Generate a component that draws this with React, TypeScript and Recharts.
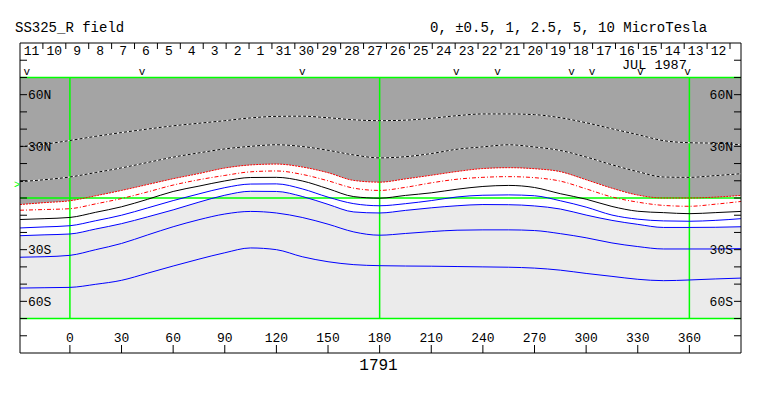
import React from 'react';
import {
  ComposedChart,
  XAxis,
  YAxis,
  Line,
  Area,
  ReferenceArea,
  ReferenceLine,
  ReferenceDot,
  Scatter,
} from 'recharts';

const longitudes = [-29, -15, 0, 15, 30, 45, 60, 75, 90, 105, 120, 135, 150, 165, 180, 195, 210, 225, 240, 255, 270, 285, 300, 315, 330, 345, 360, 375, 390];
const dotted1 = [29.8, 31.2, 33.4, 35.8, 38.0, 40.0, 41.9, 43.4, 44.9, 46.5, 47.4, 47.5, 46.6, 45.4, 44.9, 45.2, 46.3, 47.8, 48.8, 48.8, 48.4, 46.6, 43.7, 40.2, 36.8, 33.3, 32.1, 31.8, 30.9];
const dotted2 = [9.5, 10.6, 12.2, 14.8, 17.5, 20.6, 23.7, 26.2, 28.5, 30.0, 30.9, 29.9, 27.7, 25.0, 23.3, 24.0, 25.8, 28.3, 29.7, 30.9, 29.6, 27.6, 23.8, 19.3, 15.3, 12.2, 12.0, 13.0, 14.1];
const red1 = [-3.8, -2.7, -1.6, 1.3, 4.4, 7.8, 11.2, 14.2, 17.4, 19.2, 19.7, 18.0, 14.7, 10.2, 9.2, 11.1, 13.2, 15.4, 17.1, 17.6, 17.0, 15.3, 10.6, 5.7, 1.7, 0, 0, 0.5, 1.5];
const red2 = [-7.1, -6.7, -6.2, -3.4, -0.3, 3.5, 7.5, 10.6, 13.1, 15.2, 15.7, 13.7, 10.0, 5.7, 4.4, 6.2, 8.8, 10.9, 12.0, 12.4, 11.8, 9.8, 5.3, 0.6, -2.4, -4.3, -4.8, -3.6, -2.0];
const black0 = [-12.5, -12.0, -11.3, -8.3, -5.1, -0.8, 3.8, 6.9, 9.9, 11.9, 12.0, 9.9, 5.4, 0.8, -0.1, 1.5, 3.0, 5.1, 6.7, 7.3, 6.1, 2.5, -0.7, -4.9, -7.7, -8.5, -9.1, -8.5, -7.8];
const blue1 = [-17.4, -16.8, -16.1, -13.2, -10.0, -5.8, -1.5, 2.4, 6.0, 8.1, 8.2, 5.3, 0.5, -3.3, -4.5, -3.3, -1.5, 0.6, 1.6, 1.8, 1.3, -1.6, -5.3, -9.9, -12.3, -13.3, -13.5, -13.0, -12.0];
const blue2 = [-21.9, -21.4, -20.9, -18.0, -14.9, -11.0, -6.9, -2.4, 1.6, 3.9, 3.8, 0.9, -3.7, -8.1, -8.7, -7.2, -5.7, -4.5, -3.8, -3.9, -4.6, -6.4, -9.9, -13.0, -15.3, -17.1, -17.1, -17.0, -16.7];
const blue3 = [-34.4, -34.1, -33.3, -30.0, -26.4, -21.5, -16.7, -12.6, -9.3, -7.8, -8.7, -11.3, -15.2, -19.7, -21.6, -20.6, -19.5, -18.7, -18.5, -18.5, -18.9, -20.7, -23.1, -26.1, -28.2, -29.6, -29.6, -29.6, -29.4];
const blue4 = [-52.3, -52.1, -51.9, -50.1, -47.8, -43.7, -39.5, -35.5, -31.8, -29.0, -30.0, -34.1, -37.0, -38.7, -39.3, -39.5, -39.6, -39.8, -40.0, -40.2, -40.7, -41.9, -43.8, -45.5, -47.2, -48.0, -47.6, -47.0, -46.5];

// day-of-date cells across the top (Aug 11 ... Jul 12), each cell spans a fixed longitude width
const dayLabels = ['11', '10', '9', '8', '7', '6', '5', '4', '3', '2', '1', '31', '30', '29', '28', '27', '26', '25', '24', '23', '22', '21', '20', '19', '18', '17', '16', '15', '14', '13', '12'];
const dayStartLon = -29;
const dayCellDeg = 13.31;
const markerLongitudes = [-25, 42, 135, 224.5, 248.5, 291.5, 303.5, 331.5, 359];
const lonTicks = [0, 30, 60, 90, 120, 150, 180, 210, 240, 270, 300, 330, 360];
const latTicks = [-80, -70, -60, -50, -40, -30, -20, -10, 0, 10, 20, 30, 40, 50, 60, 70, 80];
const latLabels: Record<number, string> = { 60: '60N', 30: '30N', [-30]: '30S', [-60]: '60S' };

const data = longitudes.map((lon, i) => ({
  lon,
  d1: dotted1[i],
  d2: dotted2[i],
  r1: red1[i],
  r2: red2[i],
  k: black0[i],
  b1: blue1[i],
  b2: blue2[i],
  b3: blue3[i],
  b4: blue4[i],
  dark: [red1[i], 70],
  white: [blue2[i], red1[i]],
}));

const markers = markerLongitudes.map((lon) => ({ lon, lat: 73 }));
const sepLons = dayLabels.map((_, i) => +(dayStartLon + (i + 1) * dayCellDeg).toFixed(3));
const labelTicks = dayLabels.map((_, i) => +(dayStartLon + (i + 0.5) * dayCellDeg).toFixed(3));
const labelByTick = new Map(labelTicks.map((t, i) => [t, dayLabels[i]]));

const FONT = 'Liberation Mono, DejaVu Sans Mono, monospace';
const GREEN = '#00ff00';
const tickStyle = { fontFamily: FONT, fontSize: 13, fill: '#000' };

const VMark = (props: any) => (
  <text x={props.cx} y={props.cy + 3} textAnchor="middle" fontFamily={FONT} fontSize={11} fill="#000">
    v
  </text>
);

const GreenMark = (props: any) => (
  <text x={props.cx} y={props.cy + 3} textAnchor="middle" fontFamily={FONT} fontSize={10} fill={GREEN}>
    &gt;
  </text>
);

const lineCommon = {
  xAxisId: 'lon',
  yAxisId: 'lat',
  type: 'monotone' as const,
  strokeWidth: 1,
  dot: false,
  activeDot: false,
  isAnimationActive: false,
};

export default function App() {
  return (
    <div style={{ position: 'absolute', left: 0, top: 0, width: 763, height: 396 }}>
      <ComposedChart
        width={763}
        height={396}
        data={data}
        margin={{ top: 43, right: 22, bottom: 43, left: 20 }}
      >
        <XAxis xAxisId="lon" dataKey="lon" type="number" domain={[-29, 390]} allowDataOverflow
          ticks={lonTicks} orientation="bottom" mirror tickSize={8} tickMargin={3}
          tick={tickStyle} axisLine={{ stroke: '#000' }} tickLine={{ stroke: '#000' }} />
        <XAxis xAxisId="days" dataKey="lon" type="number" domain={[-29, 390]} allowDataOverflow ticks={labelTicks}
          orientation="top" mirror tickSize={0} tickMargin={3} axisLine={{ stroke: '#000' }} tickLine={false}
          interval={0} tick={tickStyle} tickFormatter={(v: number) => labelByTick.get(v) ?? ''} />
        <YAxis yAxisId="lat" type="number" domain={[-90, 90]} allowDataOverflow ticks={latTicks}
          orientation="left" mirror tickSize={7} tickMargin={1} tick={tickStyle} interval={0}
          axisLine={{ stroke: '#000' }} tickLine={{ stroke: '#000' }}
          tickFormatter={(v: number) => latLabels[v] ?? ''} />
        <YAxis yAxisId="latR" type="number" domain={[-90, 90]} allowDataOverflow ticks={latTicks}
          orientation="right" mirror tickSize={7} tickMargin={1} tick={tickStyle} interval={0}
          axisLine={{ stroke: '#000' }} tickLine={{ stroke: '#000' }}
          tickFormatter={(v: number) => latLabels[v] ?? ''} />

        <ReferenceArea xAxisId="lon" yAxisId="lat" x1={-29} x2={390} y1={-70} y2={70} fill="#ebebeb" fillOpacity={1} stroke="none" />
        <Area xAxisId="lon" yAxisId="lat" dataKey="white" type="monotone" fill="#ffffff" fillOpacity={1} stroke="none" isAnimationActive={false} />
        <Area xAxisId="lon" yAxisId="lat" dataKey="dark" type="monotone" fill="#a4a4a4" fillOpacity={1} stroke="none" isAnimationActive={false} />

        {sepLons.map((lon) => (
          <ReferenceLine key={`sep-${lon}`} xAxisId="lon" yAxisId="lat"
            segment={[{ x: lon, y: 90 }, { x: lon, y: 86.5 }]} stroke="#000" strokeWidth={1} />
        ))}

        <ReferenceLine xAxisId="lon" yAxisId="lat" y={70} stroke={GREEN} strokeWidth={1.5} />
        <ReferenceLine xAxisId="lon" yAxisId="lat" y={0} stroke={GREEN} strokeWidth={1.5} />
        <ReferenceLine xAxisId="lon" yAxisId="lat" y={-70} stroke={GREEN} strokeWidth={1.5} />
        <ReferenceLine xAxisId="lon" yAxisId="lat" segment={[{ x: 0, y: -70 }, { x: 0, y: 70 }]} stroke={GREEN} strokeWidth={1.5} />
        <ReferenceLine xAxisId="lon" yAxisId="lat" segment={[{ x: 180, y: -70 }, { x: 180, y: 70 }]} stroke={GREEN} strokeWidth={1.5} />
        <ReferenceLine xAxisId="lon" yAxisId="lat" segment={[{ x: 360, y: -70 }, { x: 360, y: 70 }]} stroke={GREEN} strokeWidth={1.5} />

        <Line {...lineCommon} dataKey="d1" stroke="#ffffff" />
        <Line {...lineCommon} dataKey="d1" stroke="#000000" strokeDasharray="3 2" />
        <Line {...lineCommon} dataKey="d2" stroke="#ffffff" />
        <Line {...lineCommon} dataKey="d2" stroke="#000000" strokeDasharray="3 2" />
        <Line {...lineCommon} dataKey="r1" stroke="#ff0000" strokeDasharray="2 1" />
        <Line {...lineCommon} dataKey="r2" stroke="#ff0000" strokeDasharray="4 2 1 2" />
        <Line {...lineCommon} dataKey="k" stroke="#000000" />
        <Line {...lineCommon} dataKey="b1" stroke="#0000ff" />
        <Line {...lineCommon} dataKey="b2" stroke="#0000ff" />
        <Line {...lineCommon} dataKey="b3" stroke="#0000ff" />
        <Line {...lineCommon} dataKey="b4" stroke="#0000ff" />

        <Scatter xAxisId="lon" yAxisId="lat" data={markers} dataKey="lat" shape={VMark} isAnimationActive={false} />
        <ReferenceDot xAxisId="lon" yAxisId="lat" x={-30.8} y={7.4} r={0} ifOverflow="visible" shape={GreenMark} />
      </ComposedChart>
      <svg width={763} height={396} style={{ position: 'absolute', left: 0, top: 0, pointerEvents: 'none' }}>
        <text x={15} y={31.5} fontFamily={FONT} fontSize={14} fill="#000">SS325_R field</text>
        <text x={430} y={31.5} fontFamily={FONT} fontSize={14} fill="#000">0, ±0.5, 1, 2.5, 5, 10 MicroTesla</text>
        <text x={622} y={68.5} fontFamily={FONT} fontSize={13.5} fill="#000">JUL 1987</text>
        <text x={378.5} y={370} textAnchor="middle" fontFamily={FONT} fontSize={16} fill="#000">1791</text>
      </svg>
    </div>
  );
}
